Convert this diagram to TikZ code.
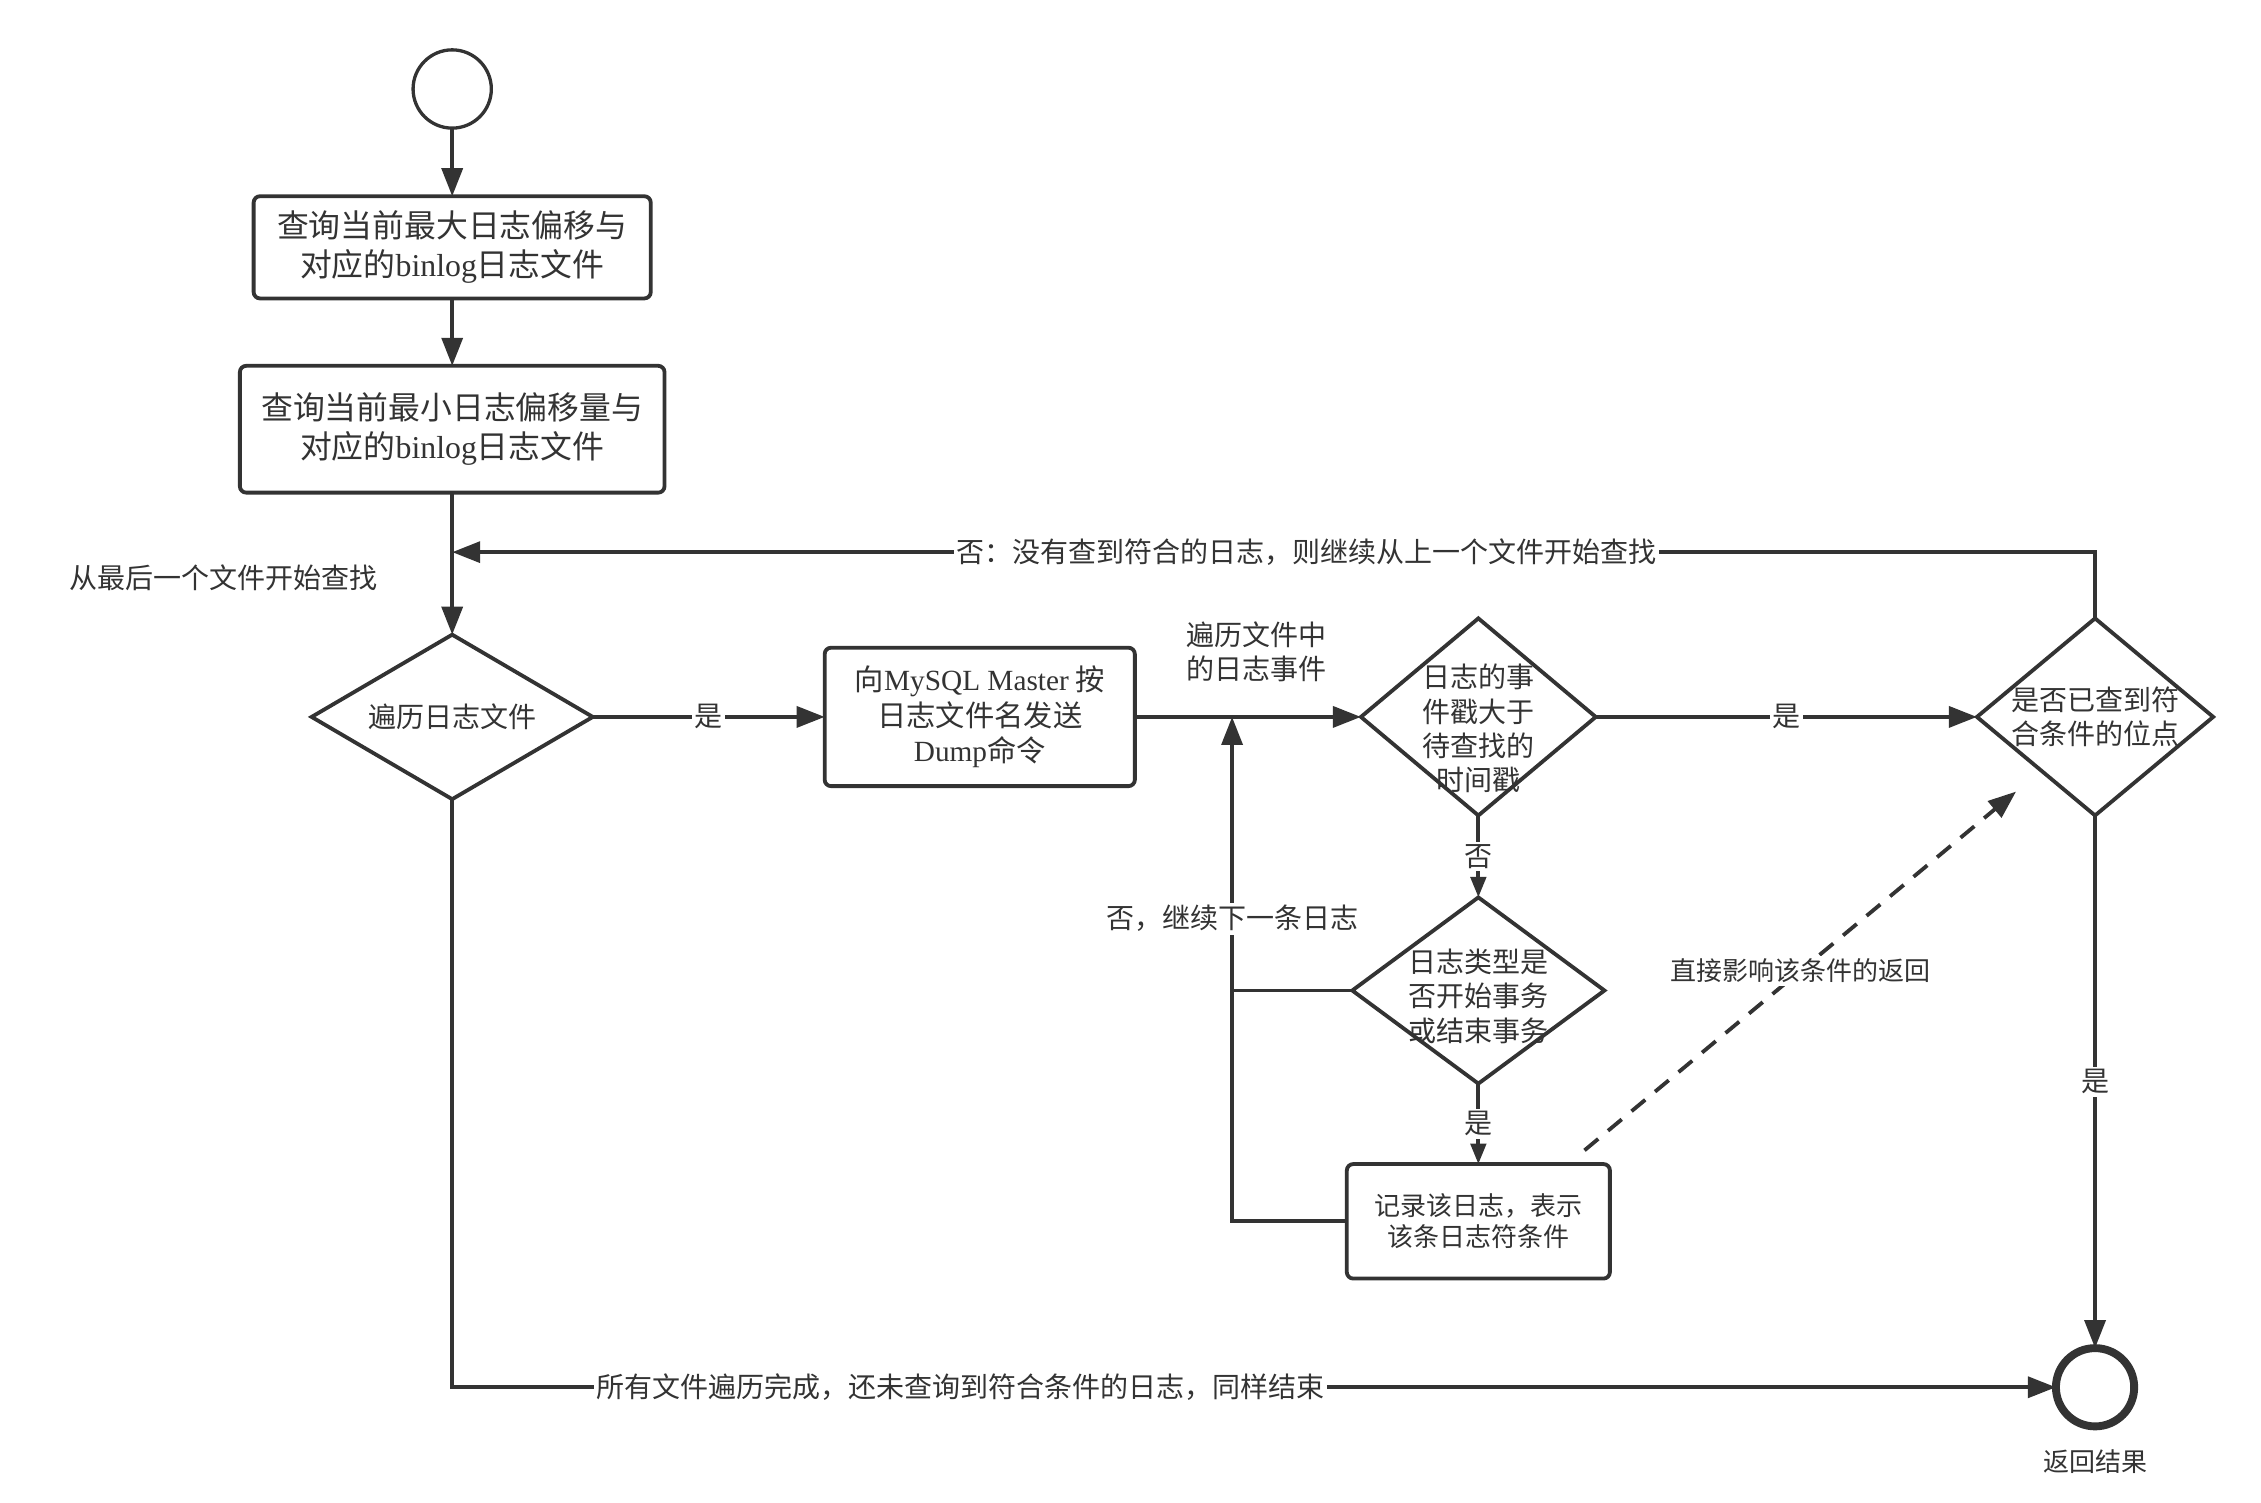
\documentclass[tikz,border=0pt]{standalone}
\usepackage{fontspec}
\setmainfont{Noto Sans CJK SC}
\newfontfamily\latn{Liberation Serif}
\usepackage{tikz}
\usetikzlibrary{shapes.geometric,arrows.meta,positioning,calc}
\definecolor{linegray}{HTML}{333333}
\newcommand{\szbig}{\fontsize{12.5pt}{15.4pt}\selectfont}
\newcommand{\szbox}{\fontsize{11.5pt}{13.9pt}\selectfont}
\newcommand{\szmid}{\fontsize{11pt}{13.5pt}\selectfont}
\newcommand{\szsmall}{\fontsize{10.2pt}{12.4pt}\selectfont}
\tikzset{
  flow start/.style={circle, draw, line width=1.3pt, minimum size=1.08cm, inner sep=0pt, outer sep=0pt},
  flow end/.style={circle, draw, line width=3.1pt, minimum size=1.08cm, inner sep=0pt, outer sep=0pt},
  flow step/.style={rectangle, draw, rounded corners=2.5pt, line width=1.5pt, align=center, inner sep=0pt, outer sep=0pt},
  flow decision/.style={diamond, draw, line width=1.5pt, inner sep=0pt, outer sep=0pt},
  flow text/.style 2 args={label={[align=center, font=\szmid, inner sep=0pt, yshift=#1]center:#2}},
  flow label/.style={font=\szmid, fill=white, inner sep=1pt, align=center},
  flow arrow/.style={-{Triangle[length=11pt, width=8.2pt]}, line width=1.5pt},
  flow short/.style={-{Triangle[length=8pt, width=6pt]}, line width=1.5pt},
  flow line/.style={line width=1.5pt}
}

\begin{document}
\begin{tikzpicture}[color=linegray]
    \useasboundingbox (0,0) rectangle (31.2,-20.73);

    % Start and offset queries
    \node [flow start] (Start) at (6.24,-1.228) {};
    \node [flow step, font=\szbig, minimum width=5.48cm, minimum height=1.41cm, below=0.94cm of Start] (MaxOffset) {查询当前最大日志偏移与\\对应的{\latn binlog}日志文件};
    \node [flow step, font=\szbig, minimum width=5.86cm, minimum height=1.75cm, below=0.93cm of MaxOffset] (MinOffset) {查询当前最小日志偏移量与\\对应的{\latn binlog}日志文件};

    % File loop
    \node [flow decision, minimum width=3.88cm, minimum height=2.27cm, flow text={0cm}{遍历日志文件}, below=1.96cm of MinOffset] (Traverse) {};
    \node [flow step, font=\szbox, minimum width=4.28cm, minimum height=1.91cm, right=3.2cm of Traverse] (DumpCmd) {向{\latn MySQL Master} 按\\日志文件名发送\\{\latn Dump}命令};

    % Event checks
    \node [flow decision, minimum width=3.24cm, minimum height=2.72cm, flow text={-0.16cm}{日志的事\\件戳大于\\待查找的\\时间戳}, right=3.12cm of DumpCmd] (Timecheck) {};
    \node [flow decision, minimum width=3.26cm, minimum height=2.72cm, flow text={0cm}{是否已查到符\\合条件的位点}, right=5.26cm of Timecheck] (Located) {};
    \node [flow decision, minimum width=3.48cm, minimum height=2.57cm, flow text={-0.08cm}{日志类型是\\否开始事务\\或结束事务}, below=1.13cm of Timecheck] (TxType) {};
    \node [flow step, font=\szsmall, minimum width=3.63cm, minimum height=1.58cm, below=1.11cm of TxType] (Record) {记录该日志，表示\\该条日志符条件};

    % End
    \node [flow end, below=7.35cm of Located] (Finish) {};
    \node [font=\szsmall, below=0.2cm of Finish] (ResultLbl) {返回结果};

    % Helper points
    \coordinate (Back) at ($(MinOffset.south)!0.419!(Traverse.north)$);
    \coordinate (Join) at ($(DumpCmd.east)!0.43!(Timecheck.west)$);
    \coordinate (DashFrom) at ($(Record.north east)+(-0.35,0.19)$);
    \coordinate (DashTo) at ($(Located.west)+(0.54,-1.03)$);

    % Connections
    \draw [flow arrow] (Start) -- (MaxOffset);
    \draw [flow arrow] (MaxOffset) -- (MinOffset);
    \draw [flow arrow] (MinOffset) -- (Traverse);
    \draw [flow arrow] (Traverse) -- node [flow label] {是} (DumpCmd);
    \draw [flow arrow] (DumpCmd) -- node [flow label, above=0.42cm, pos=0.536] (EventLbl) {遍历文件中\\的日志事件} (Timecheck);
    \draw [flow arrow] (Timecheck) -- node [flow label] {是} (Located);
    \draw [flow short] (Timecheck) -- node [flow label] {否} (TxType);
    \draw [flow short] (TxType) -- node [flow label] {是} (Record);
    \draw [flow arrow] (Record.west) -| node [flow label, pos=0.8] {否，继续下一条日志} (Join);
    \draw [flow line] (TxType.west) -- (TxType.west -| Join);
    \draw [flow arrow, dash pattern=on 7pt off 5pt] (DashFrom) -- node [flow label, font=\szsmall] {直接影响该条件的返回} (DashTo);
    \draw [flow arrow] (Located.north) |- node [flow label, pos=0.74] {否：没有查到符合的日志，则继续从上一个文件开始查找} (Back);
    \draw [flow arrow] (Located) -- node [flow label] {是} (Finish);
    \draw [flow arrow] (Traverse.south) |- node [flow label, pos=0.6585] {所有文件遍历完成，还未查询到符合条件的日志，同样结束} (Finish.west);

    % Labels
    \node [flow label, left=0.99cm of Back, yshift=-0.36cm] (FromLast) {从最后一个文件开始查找};
\end{tikzpicture}
\end{document}
